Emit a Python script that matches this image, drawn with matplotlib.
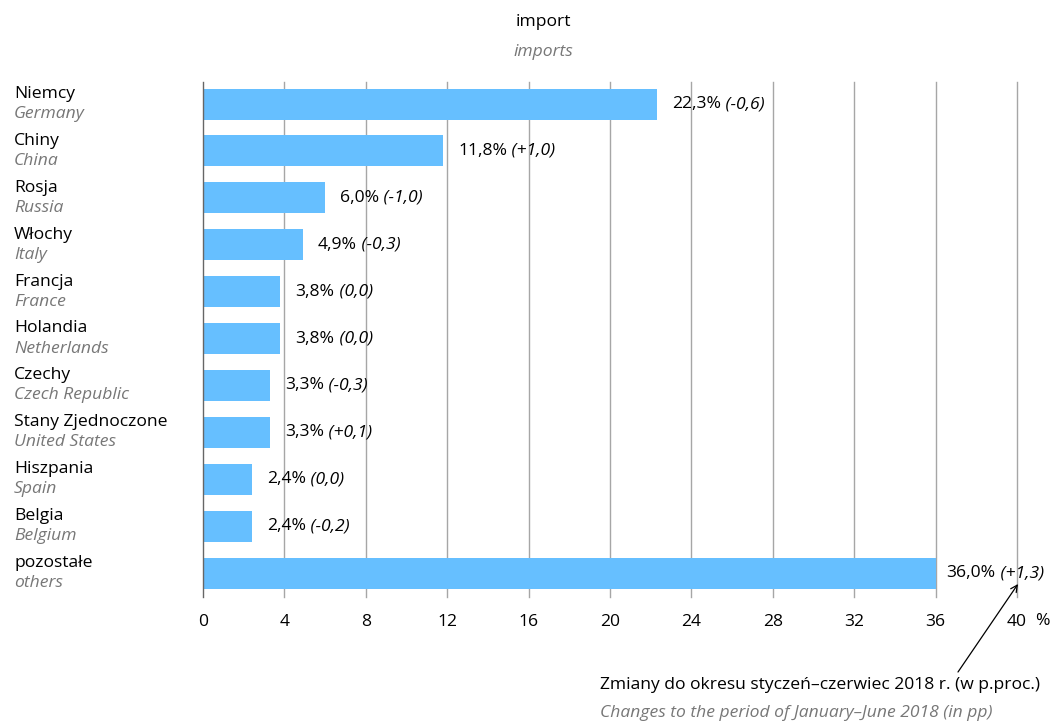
import matplotlib
matplotlib.use("Agg")
import matplotlib.pyplot as plt

plt.rcParams['font.family'] = ['Open Sans', 'DejaVu Sans']

# Import structure by country, share in % and change in percentage points
countries_pl = ["Niemcy", "Chiny", "Rosja", "Włochy", "Francja", "Holandia",
                "Czechy", "Stany Zjednoczone", "Hiszpania", "Belgia", "pozostałe"]
countries_en = ["Germany", "China", "Russia", "Italy", "France", "Netherlands",
                "Czech Republic", "United States", "Spain", "Belgium", "others"]
shares = [22.3, 11.8, 6.0, 4.9, 3.8, 3.8, 3.3, 3.3, 2.4, 2.4, 36.0]
changes = ["-0,6", "+1,0", "-1,0", "-0,3", "0,0", "0,0", "-0,3", "+0,1", "0,0", "-0,2", "+1,3"]
xticks = [0, 4, 8, 12, 16, 20, 24, 28, 32, 36, 40]

BAR = "#66bfff"
GREY_TXT = "#777777"
FS = 12.6

fig = plt.figure(figsize=(10.6, 7.23), dpi=100)
ax = fig.add_axes([0.1915, 0.1743, 0.7679, 0.7123])

y = list(range(len(shares)))
ax.barh(y, shares, height=0.66, color=BAR, zorder=2)
ax.set_xlim(0, 40)
ax.set_ylim(10.51, -0.47)

for t in xticks[1:]:
    ax.axvline(t, color="#a6a6a6", lw=1.0, zorder=1, clip_on=False)
ax.axvline(0, color="#666666", lw=1.0, zorder=3, clip_on=False)

for s in ax.spines.values():
    s.set_visible(False)
ax.set_yticks([])
ax.set_xticks(xticks)
ax.set_xticklabels([str(t) for t in xticks], fontsize=FS)
ax.tick_params(axis="x", length=0, pad=12.5)

# Country labels
for i, (pl, en) in enumerate(zip(countries_pl, countries_en)):
    fig.text(14 / 1060, 1 - (94 + i * 46.9) / 723, pl, fontsize=FS, ha="left", va="center")
    fig.text(14 / 1060, 1 - (114 + i * 46.9) / 723, en, fontsize=FS, ha="left", va="center",
             style="italic", color=GREY_TXT)

# Value labels: share in regular, change in italics
for i, (v, c) in enumerate(zip(shares, changes)):
    gap = 8 if v > 30 else 11
    t1 = ax.annotate(f"{v:.1f}".replace(".", ",") + "%", xy=(v, i), xytext=(gap, 0),
                     textcoords="offset points", fontsize=FS, ha="left", va="center",
                     zorder=4)
    ax.annotate(f" ({c})", xy=(1, 0), xycoords=t1, xytext=(0, 0),
                textcoords="offset points", fontsize=FS, ha="left", va="bottom",
                style="italic", zorder=4)

# Percent sign next to the last tick label
fig.text(1035 / 1060, 1 - 621 / 723, "%", fontsize=FS, ha="left", va="center")

# Titles
fig.text(543 / 1060, 1 - 22 / 723, "import", fontsize=FS, ha="center", va="center")
fig.text(543 / 1060, 1 - 52 / 723, "imports", fontsize=FS, ha="center", va="center",
         style="italic", color=GREY_TXT)

# Note about the changes with pointer arrow
fig.text(600 / 1060, 1 - 685 / 723, "Zmiany do okresu styczeń–czerwiec 2018 r. (w p.proc.)",
         fontsize=FS, ha="left", va="center")
fig.text(600 / 1060, 1 - 713 / 723, "Changes to the period of January–June 2018 (in pp)",
         fontsize=FS, ha="left", va="center", style="italic", color=GREY_TXT)
ax.annotate("", xy=(1018 / 1060, 1 - 584 / 723), xycoords="figure fraction",
            xytext=(958 / 1060, 1 - 672 / 723), textcoords="figure fraction",
            arrowprops=dict(arrowstyle="->", color="black", lw=0.9,
                            shrinkA=0, shrinkB=0, mutation_scale=12),
            annotation_clip=False)

fig.savefig("out.png", dpi=100, facecolor="white")
